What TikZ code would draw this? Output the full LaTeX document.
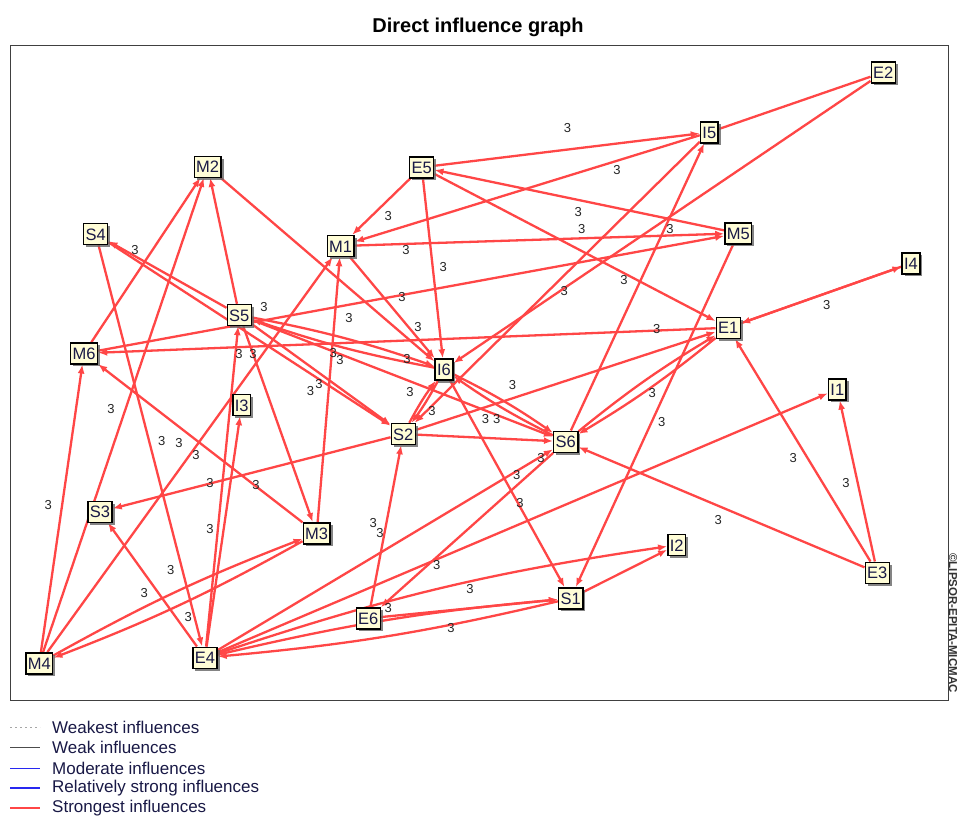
\documentclass[tikz,border=0pt]{standalone}
\usepackage{fontspec}
\setmainfont{Liberation Sans}
\usetikzlibrary{arrows.meta,shadows}
\definecolor{edgered}{RGB}{255,70,70}
\definecolor{boxfill}{RGB}{255,253,215}
\definecolor{boxtext}{RGB}{25,25,70}
\definecolor{legblue}{RGB}{40,40,240}
\pgfdeclarelayer{bg}
\pgfsetlayers{bg,main}
\begin{document}
\begin{tikzpicture}[x=1pt,y=-1pt,
  var/.style={draw=black, line width=1.4pt, fill=boxfill, text=boxtext,
    font=\fontsize{16.5}{17}\selectfont, inner xsep=2pt, inner ysep=0pt,
    minimum height=21pt, text height=12pt, text depth=0pt,
    drop shadow={shadow xshift=2.5pt,shadow yshift=-2.5pt,fill=black!60,opacity=0.8}},
  inf/.style={draw=edgered, line width=2.3pt, -{Latex[length=9pt,width=7pt]}},
  plain/.style={draw=edgered, line width=2.3pt},
  pair/.style={bend left=4},
  lab/.style={font=\fontsize{13}{13}\selectfont, text=black!85, inner sep=0pt},
  legtxt/.style={font=\fontsize{17}{18}\selectfont, text=boxtext, anchor=west, inner sep=0pt},
]
\useasboundingbox (0,0) rectangle (960,817);
\begin{pgfonlayer}{bg}
\fill[white] (0,0) rectangle (960,817);
\end{pgfonlayer}
\node[font=\bfseries\fontsize{20}{22}\selectfont] (title) at (478,27) {Direct influence graph};
\draw[black!75, line width=1pt] (10,45) rectangle (948,700);
\node[rotate=-90, font=\bfseries\fontsize{11.5}{12}\selectfont, text=black!80, inner sep=0pt] (copy) at (953,623) {\char"00A9LIPSOR-EPITA-MICMAC};

% variables
\node[var] (E2) at (883.3,72.3) {E2};
\node[var] (I5) at (709.3,132.3) {I5};
\node[var] (E5) at (421.7,167.3) {E5};
\node[var] (M2) at (207.7,166.7) {M2};
\node[var] (M5) at (738.3,233.3) {M5};
\node[var] (S4) at (95.7,234) {S4};
\node[var] (M1) at (340.7,246) {M1};
\node[var] (I4) at (911,263.3) {I4};
\node[var] (S5) at (239.3,315) {S5};
\node[var] (E1) at (728.3,327.7) {E1};
\node[var] (M6) at (84,353.3) {M6};
\node[var] (I6) at (444,369.5) {I6};
\node[var] (I1) at (837.3,389.3) {I1};
\node[var] (I3) at (241.7,405) {I3};
\node[var] (S2) at (403.3,434) {S2};
\node[var] (S6) at (565.7,441.7) {S6};
\node[var] (S3) at (100,511.7) {S3};
\node[var] (M3) at (316.7,533.3) {M3};
\node[var] (I2) at (676.7,545) {I2};
\node[var] (E3) at (877.3,572.7) {E3};
\node[var] (S1) at (570.7,598.3) {S1};
\node[var] (E6) at (368.3,618.3) {E6};
\node[var] (E4) at (205,657.7) {E4};
\node[var] (M4) at (39.3,663.3) {M4};

\begin{pgfonlayer}{bg}
\draw[inf] (E5) -- (I5);
\draw[plain] (E2) -- (I5);
\draw[inf] (I5) -- (M1);
\draw[inf] (E2) -- (I6);
\draw[inf] (E5) -- (M1);
\draw[inf] (E5) -- (I6);
\draw[inf] (M5) -- (E5);
\draw[inf] (E5) -- (E1);
\draw[inf] (M5) -- (S1);
\draw[inf] (S6) -- (I5);
\draw[inf] (E1) -- (I4);
\draw[inf] (I4) -- (E1);
\draw[inf] (E3) -- (E1);
\draw[inf] (S2) -- (E1);
\draw[inf] (E1) to[pair] (S6);
\draw[inf] (S6) to[pair] (E1);
\draw[inf] (E1) -- (M6);
\draw[inf] (E3) -- (I1);
\draw[inf] (E4) -- (I1);
\draw[inf] (E3) -- (S6);
\draw[inf] (M1) -- (M5);
\draw[inf] (M6) -- (M5);
\draw[inf] (M2) -- (I6);
\draw[inf] (M1) -- (I6);
\draw[inf] (M3) -- (M1);
\draw[inf] (M4) -- (M1);
\draw[inf] (M6) -- (M2);
\draw[inf] (M4) -- (M2);
\draw[inf] (S5) -- (M2);
\draw[inf] (S5) -- (S4);
\draw[inf] (S4) -- (S2);
\draw[inf] (S4) -- (E4);
\draw[inf] (S5) to[pair] (I6);
\draw[inf] (I6) to[pair] (S5);
\draw[inf] (S5) -- (S2);
\draw[inf] (S5) -- (S6);
\draw[inf] (E4) -- (S5);
\draw[inf] (S5) -- (M3);
\draw[inf] (M4) -- (M6);
\draw[inf] (M3) -- (M6);
\draw[inf] (E4) -- (I3);
\draw[inf] (E4) -- (S3);
\draw[inf] (S2) -- (S3);
\draw[inf] (M4) to[pair] (M3);
\draw[inf] (M3) to[pair] (M4);
\draw[inf] (I6) to[pair] (S2);
\draw[inf] (S2) to[pair] (I6);
\draw[inf] (I5) -- (S2);
\draw[inf] (S2) -- (S6);
\draw[inf] (I6) to[pair] (S6);
\draw[inf] (S6) to[pair] (I6);
\draw[inf] (I6) -- (S1);
\draw[inf] (E6) -- (S2);
\draw[inf] (S6) -- (E6);
\draw[inf] (E4) -- (S6);
\draw[inf] (E6) -- (S1);
\draw[inf] (E4) to[pair] (S1);
\draw[inf] (S1) to[pair] (E4);
\draw[inf] (E4) to[bend left=5] (I2);
\draw[inf] (S1) -- (I2);
\end{pgfonlayer}

% influence values
\foreach \x/\y [count=\i] in {567.5/128.5, 617/170, 388.3/216, 578.3/212, 581.7/229.3, 670/229.3,
  406/250, 443.3/266.7, 402/297, 624/280, 564.3/290.7, 135/250, 264/306.7, 349/318.3, 418/327.3,
  656.7/329, 826.7/305, 239/354, 253/354, 333.3/353.3, 340/360.5, 407/359.5, 410/391.7,
  432/410.7, 310.5/391.5, 319/384.5, 512.5/385, 485.5/419, 496.7/419, 652.3/393.3, 661.7/421.7,
  111/409.3, 161.7/440.7, 179/443.3, 196/455, 210/483.3, 256/485, 48.3/505, 210/529.3,
  170.7/570, 144.3/593.3, 188.3/616.7, 541/458.3, 516.7/475, 520/503.3, 373.3/522.7,
  380/532.7, 436.7/565, 470/589, 388.3/608.3, 451/627.7, 793.3/457.7, 846/483.3, 718.3/520}
  \node[lab] (v\i) at (\x,\y) {3};

% legend
\draw[black!35, line width=0.8pt, dash pattern=on 2pt off 3pt] (10,727) coordinate (l1a) -- (40,727) coordinate (l1b);
\draw[black!70, line width=1pt] (10,747) coordinate (l2a) -- (40,747) coordinate (l2b);
\draw[legblue, line width=1pt] (10,768) coordinate (l3a) -- (40,768) coordinate (l3b);
\draw[legblue, line width=2.5pt] (10,788) coordinate (l4a) -- (40,788) coordinate (l4b);
\draw[edgered, line width=2.5pt] (10,808) coordinate (l5a) -- (40,808) coordinate (l5b);
\node[legtxt] (t1) at (52,727) {Weakest influences};
\node[legtxt] (t2) at (52,747) {Weak influences};
\node[legtxt] (t3) at (52,768) {Moderate influences};
\node[legtxt] (t4) at (52,788) {Relatively strong influences};
\node[legtxt] (t5) at (52,808) {Strongest influences};
\end{tikzpicture}
\end{document}
